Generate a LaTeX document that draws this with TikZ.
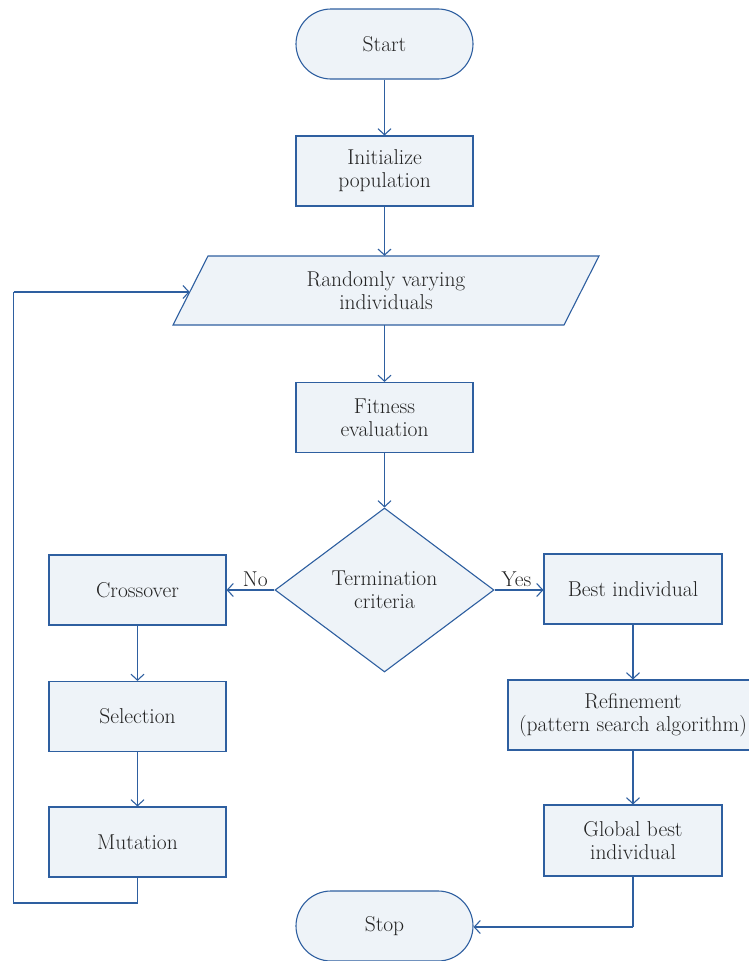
\documentclass[tikz,border=0pt]{standalone}
\usetikzlibrary{shapes.geometric,arrows.meta}
\definecolor{lineblue}{RGB}{46,95,160}
\definecolor{boxfill}{RGB}{238,243,248}
\definecolor{txt}{RGB}{35,35,35}
\begin{document}
\begin{tikzpicture}[x=1pt,y=-1pt,
  every node/.style={text=txt,font=\fontsize{21.5}{23}\selectfont,align=center,inner sep=0pt},
  box/.style={draw=lineblue,fill=boxfill,line width=1.1pt,minimum width=177pt,minimum height=70pt},
  term/.style={box,rounded corners=35pt},
  conn/.style={draw=lineblue,line width=1.1pt,-{Straight Barb[length=6pt,width=13pt,line width=1.1pt]}},
  plain/.style={draw=lineblue,line width=1.1pt}]
\useasboundingbox (0,0) rectangle (749,961);
\node[term] (start) at (384.5,44) {Start};
\node[box] (init) at (384.5,171) {Initialize\\population};
\draw[draw=lineblue,fill=boxfill,line width=1.1pt] (208,256) -- (599,256) -- (564,325) -- (173,325) -- cycle;
\node[minimum width=300pt,minimum height=69pt] (rand) at (386,290.5) {Randomly varying\\individuals};
\coordinate (randL) at (189.7,292);
\node[box] (fit) at (384.5,417.5) {Fitness\\evaluation};
\node[diamond,draw=lineblue,fill=boxfill,line width=1.1pt,aspect=1.335,minimum width=219pt,minimum height=164pt] (term) at (384.5,590) {Termination\\criteria};
\node[box] (cross) at (137.5,590) {Crossover};
\node[box] (sel) at (137.5,716.5) {Selection};
\node[box] (mut) at (137.5,842) {Mutation};
\node[box,minimum width=178pt] (best) at (633,589) {Best individual};
\node[box,minimum width=250pt] (ref) at (633,715) {Refinement\\(pattern search algorithm)};
\node[box,minimum width=178pt,minimum height=71pt] (glob) at (633,840.5) {Global best\\individual};
\node[term] (stop) at (384.5,926) {Stop};
\draw[conn] (start) -- (init);
\draw[conn] (init.south) -- (init.south |- rand.north);
\draw[conn] (fit.north |- rand.south) -- (fit.north);
\draw[conn] (fit.south) -- (fit.south |- term.north);
\draw[conn] (term.west) -- node[above=3pt,pos=0.4] {No} (cross.east |- term.west);
\draw[conn] (term.east) -- node[above=3pt,pos=0.45] {Yes} (best.west |- term.east);
\draw[conn] (cross) -- (sel);
\draw[conn] (sel) -- (mut);
\draw[conn] (best) -- (ref);
\draw[conn] (ref) -- (glob);
\coordinate (l1) at (137.5,903);
\coordinate (l2) at (13.5,903);
\coordinate (l3) at (13.5,292);
\draw[plain] (mut.south) -- (l1) -- (l2) -- (l3);
\draw[conn] (l3) -- (randL);
\coordinate (g1) at (633,927);
\draw[plain] (glob.south) -- (g1);
\draw[conn] (g1) -- (stop.east |- g1);
\end{tikzpicture}
\end{document}
